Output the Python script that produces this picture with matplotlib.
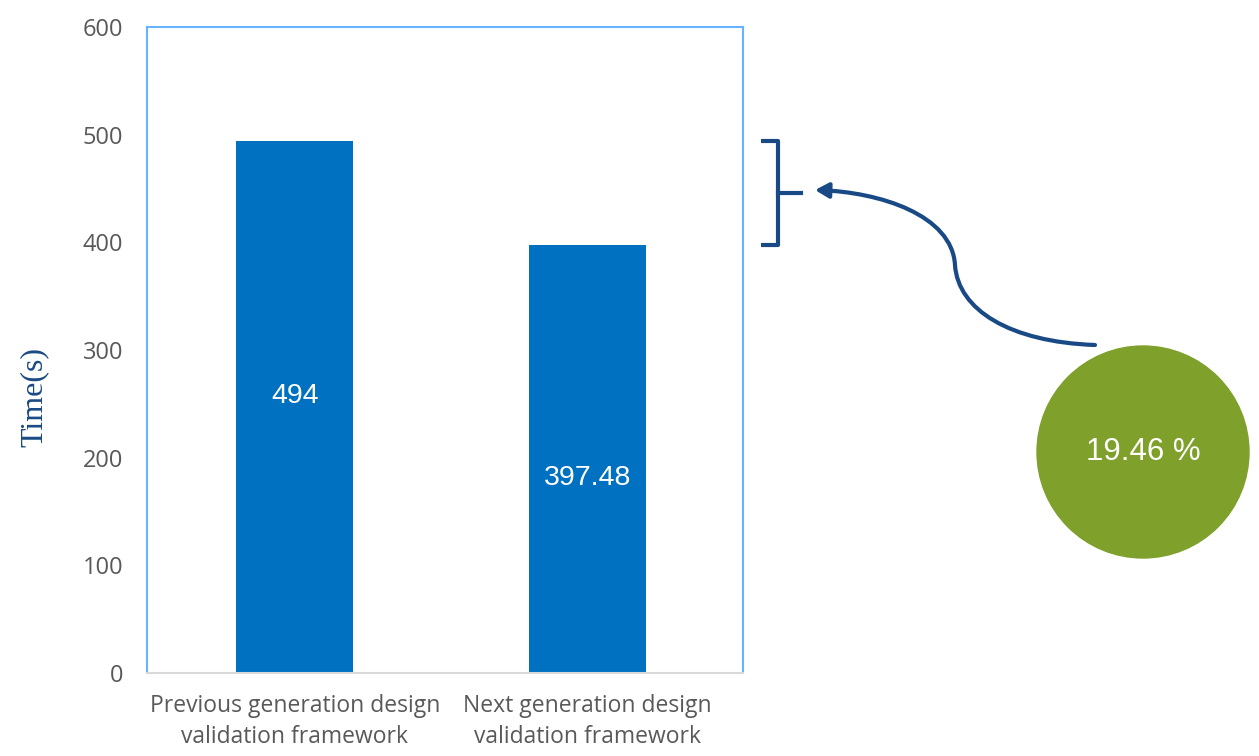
import matplotlib
matplotlib.use("Agg")
import matplotlib.pyplot as plt
from matplotlib.patches import Circle, FancyArrowPatch
from matplotlib.path import Path

categories = ["Previous generation design\nvalidation framework",
              "Next generation design\nvalidation framework"]
values = [494, 397.48]
value_labels = ["494", "397.48"]
label_heights = [257, 181]
yticks = [0, 100, 200, 300, 400, 500, 600]
reduction_label = "19.46 %"

BAR = "#0070c0"
SPINE = "#66b3ff"
TICK = "#595959"
DARK = "#1a4a85"
GREEN = "#7fa02b"

fig = plt.figure(figsize=(12.59, 7.56), dpi=100)
ax = fig.add_axes([147 / 1259, 83 / 756, 596 / 1259, 646 / 756])

x = range(len(categories))
ax.bar(x, values, width=0.4, color=BAR, zorder=2)
for i, (lab, h) in enumerate(zip(value_labels, label_heights)):
    ax.text(i, h, lab, color="white", ha="center", va="center",
            fontsize=20.5, family="Liberation Sans", zorder=3)

ax.set_xlim(-0.505, 1.53)
ax.set_ylim(0, 600)
ax.set_yticks(yticks)
ax.set_xticks(list(x))
ax.set_xticklabels(categories, fontsize=16.5, family="Open Sans", color=TICK, linespacing=1.4)
ax.tick_params(axis="y", length=0, pad=17, labelsize=17, labelcolor=TICK)
ax.tick_params(axis="x", length=0, pad=15)
for t in ax.get_yticklabels():
    t.set_family("Open Sans")

for side in ("left", "top", "right"):
    ax.spines[side].set_color(SPINE)
    ax.spines[side].set_linewidth(1.5)
ax.spines["bottom"].set_color("#d9d9d9")
ax.spines["bottom"].set_linewidth(1.5)

ax.set_ylabel("Time(s)", family="Liberation Serif", fontsize=23, color=DARK)
ax.yaxis.set_label_coords(-0.165, 0.427)

# bracket spanning the two bar heights
bx0, bx1, bx2 = 1.59, 1.648, 1.727
top, bot = values[0], values[1]
mid = (top + bot) / 2
ax.plot([bx0, bx1, bx1, bx0], [top, top, bot, bot], color=DARK, lw=3,
        solid_joinstyle="round", solid_capstyle="butt", clip_on=False)
ax.plot([bx1, bx2], [mid, mid], color=DARK, lw=3, clip_on=False)

# overlay in pixel coordinates for the arrow and circle
ov = fig.add_axes([0, 0, 1, 1])
ov.set_xlim(0, 1259)
ov.set_ylim(756, 0)
ov.axis("off")
verts = [(1095, 345), (1010, 342), (958, 310), (955, 265),
         (952, 215), (880, 192), (815, 190)]
codes = [Path.MOVETO] + [Path.CURVE4] * 6
arrow = FancyArrowPatch(path=Path(verts, codes), arrowstyle="-|>,head_length=8,head_width=4.5",
                        color=DARK, lw=3, mutation_scale=1)
ov.add_patch(arrow)
ov.add_patch(Circle((1143, 452), 106, color=GREEN))
ov.text(1143, 452, reduction_label, color="white", ha="center", va="center",
        fontsize=22.5, family="Liberation Sans")

fig.savefig("out.png", dpi=100)
